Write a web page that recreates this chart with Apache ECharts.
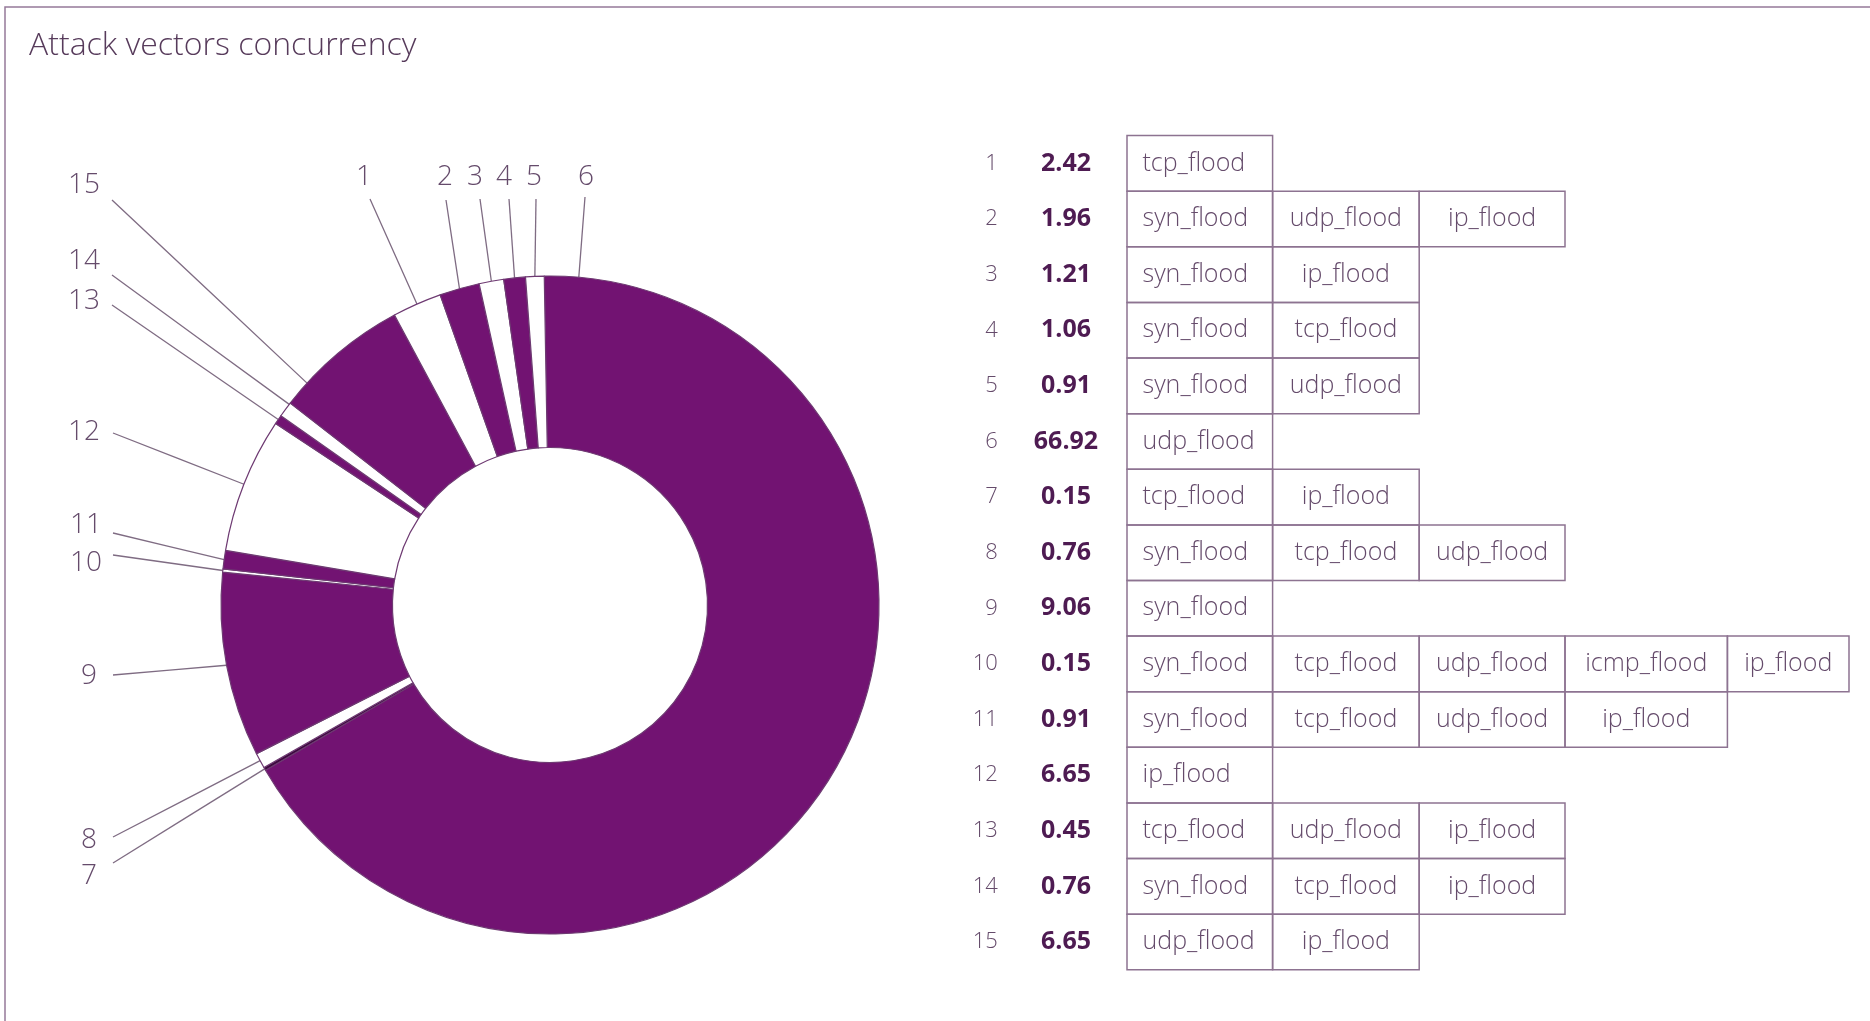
<!DOCTYPE html>
<html>
<head>
<meta charset="utf-8">
<title>Attack vectors concurrency</title>
<script src="https://cdn.jsdelivr.net/npm/echarts@6/dist/echarts.min.js"></script>
<style>
  html, body { margin: 0; padding: 0; background: #ffffff; }
  #chart { width: 1870px; height: 1021px; }
</style>
</head>
<body>
<div id="chart"></div>
<script>
// Combination ids, their share of attacks (%) and the vectors in each combination
const rowIds = ['1', '2', '3', '4', '5', '6', '7', '8', '9', '10', '11', '12', '13', '14', '15'];
const rowShares = [2.42, 1.96, 1.21, 1.06, 0.91, 66.92, 0.15, 0.76, 9.06, 0.15, 0.91, 6.65, 0.45, 0.76, 6.65];
const rowVectors = [
  ['tcp_flood'],
  ['syn_flood', 'udp_flood', 'ip_flood'],
  ['syn_flood', 'ip_flood'],
  ['syn_flood', 'tcp_flood'],
  ['syn_flood', 'udp_flood'],
  ['udp_flood'],
  ['tcp_flood', 'ip_flood'],
  ['syn_flood', 'tcp_flood', 'udp_flood'],
  ['syn_flood'],
  ['syn_flood', 'tcp_flood', 'udp_flood', 'icmp_flood', 'ip_flood'],
  ['syn_flood', 'tcp_flood', 'udp_flood', 'ip_flood'],
  ['ip_flood'],
  ['tcp_flood', 'udp_flood', 'ip_flood'],
  ['syn_flood', 'tcp_flood', 'ip_flood'],
  ['udp_flood', 'ip_flood']
];
// Order of the segments around the ring, clockwise from the top
const ringOrder = ['6', '7', '8', '9', '10', '11', '12', '13', '14', '15', '1', '2', '3', '4', '5'];

// ---- styling ----
const PURPLE = '#721372';
const DARK = '#3e0a40';
const WHITE = '#ffffff';
const ringFill = [PURPLE, DARK, WHITE, PURPLE, WHITE, PURPLE, WHITE, PURPLE, WHITE, PURPLE, WHITE, PURPLE, WHITE, PURPLE, WHITE];
const TEXT_GREY = '#654b6b';
const LINE_GREY = '#7f6c83';
const CELL_LINE = '#8d7391';
const FONT = '"Open Sans", "Noto Sans", sans-serif';

// Callout placement: label centre, where the leader line leaves the label,
// and how far along its segment (0..1) the line meets the ring.
const calloutSpots = {
  '1':  { text: [364, 177], from: [370, 199], t: 0.5 },
  '2':  { text: [445, 177], from: [446, 200], t: 0.5 },
  '3':  { text: [475, 177], from: [480, 199], t: 0.5 },
  '4':  { text: [504, 177], from: [509, 199], t: 0.5 },
  '5':  { text: [534, 177], from: [536, 199], t: 0.5 },
  '6':  { text: [586, 177], from: [585, 197], t: 0.025 },
  '7':  { text: [89, 876], from: [113, 863], t: 0.5 },
  '8':  { text: [89, 840], from: [113, 837], t: 0.5 },
  '9':  { text: [89, 676], from: [113, 675], t: 0.5 },
  '10': { text: [86, 563], from: [113, 555], t: 0.5 },
  '11': { text: [86, 525], from: [113, 533], t: 0.5 },
  '12': { text: [84, 432], from: [113, 433], t: 0.5 },
  '13': { text: [84, 301], from: [112, 305], t: 0.5 },
  '14': { text: [84, 261], from: [112, 275], t: 0.9 },
  '15': { text: [84, 185], from: [112, 200], t: 0.19 }
};

// Table column edges (px from the first cell's left edge)
const colEdges = [0, 145.5, 292, 437.7, 600, 721.5];

const chart = echarts.init(document.getElementById('chart'), null, { renderer: 'canvas' });

function ringPoint(dataIndex, t, fallback) {
  try {
    const lay = chart.getModel().getSeriesByIndex(0).getData().getItemLayout(dataIndex);
    const a = lay.startAngle + (lay.endAngle - lay.startAngle) * t;
    return [lay.cx + lay.r * Math.cos(a), lay.cy + lay.r * Math.sin(a)];
  } catch (e) {
    return fallback;
  }
}

const pieData = ringOrder.map((id, k) => ({
  name: id,
  value: rowShares[rowIds.indexOf(id)],
  itemStyle: { color: ringFill[k] }
}));

function renderRow(params, api) {
  const i = params.dataIndex;
  const yc = api.coord([0, i])[1];
  const h = api.size([0, 1])[1];
  const children = [];
  children.push({
    type: 'text',
    style: {
      text: rowIds[i], x: api.coord([-129, i])[0], y: yc,
      align: 'right', verticalAlign: 'middle',
      fontFamily: FONT, fontSize: 22, fontWeight: 300, fill: TEXT_GREY
    }
  });
  children.push({
    type: 'text',
    style: {
      text: rowShares[i].toFixed(2), x: api.coord([-61, i])[0], y: yc,
      align: 'center', verticalAlign: 'middle',
      fontFamily: FONT, fontSize: 25, fontWeight: 'bold', fill: '#4e1b52'
    }
  });
  rowVectors[i].forEach((v, j) => {
    const x0 = api.coord([colEdges[j], i])[0];
    const x1 = api.coord([colEdges[j + 1], i])[0];
    children.push({
      type: 'rect',
      shape: { x: x0, y: yc - h / 2, width: x1 - x0, height: h },
      style: { fill: 'none', stroke: CELL_LINE, lineWidth: 1.5 }
    });
    children.push({
      type: 'text',
      style: {
        text: v, x: j === 0 ? x0 + 15.5 : (x0 + x1) / 2, y: yc,
        align: j === 0 ? 'left' : 'center', verticalAlign: 'middle',
        fontFamily: FONT, fontSize: 25, fontWeight: 300, fill: TEXT_GREY
      }
    });
  });
  return { type: 'group', children };
}

chart.setOption({
  animation: false,
  backgroundColor: '#ffffff',
  title: {
    text: 'Attack vectors concurrency',
    left: 24,
    top: 25,
    textStyle: { color: '#573b5b', fontSize: 32, fontWeight: 300, fontFamily: FONT }
  },
  graphic: [{
    type: 'rect',
    shape: { x: 5, y: 7, width: 1900, height: 1100 },
    style: { fill: 'none', stroke: '#957a99', lineWidth: 1.5 },
    silent: true
  }],
  grid: { left: 1127, right: 21, top: 135.6, bottom: 51.2 },
  xAxis: { type: 'value', min: 0, max: 721.5, show: false },
  yAxis: { type: 'category', data: rowIds, inverse: true, show: false },
  series: [
    {
      type: 'pie',
      center: [550, 605],
      radius: [157.5, 329],
      startAngle: 91,
      clockwise: true,
      avoidLabelOverlap: false,
      silent: true,
      itemStyle: { borderColor: '#6e3a72', borderWidth: 1.2 },
      label: {
        show: true,
        position: 'outside',
        formatter: '{b}',
        color: TEXT_GREY,
        fontSize: 28,
        fontWeight: 300,
        fontFamily: FONT
      },
      labelLine: {
        show: true,
        length: 20,
        length2: 10,
        lineStyle: { color: LINE_GREY, width: 1.3 }
      },
      labelLayout: function (params) {
        const id = ringOrder[params.dataIndex];
        const spot = calloutSpots[id];
        const fallback = params.labelLinePoints ? params.labelLinePoints[0] : spot.from;
        const p = ringPoint(params.dataIndex, spot.t, fallback);
        const m = [(p[0] + spot.from[0]) / 2, (p[1] + spot.from[1]) / 2];
        return {
          x: spot.text[0],
          y: spot.text[1],
          align: 'center',
          verticalAlign: 'middle',
          labelLinePoints: [p, m, spot.from]
        };
      },
      data: pieData
    },
    {
      type: 'custom',
      coordinateSystem: 'cartesian2d',
      clip: false,
      silent: true,
      renderItem: renderRow,
      encode: { x: 0, y: 1 },
      data: rowIds.map((id, i) => [0, i])
    }
  ]
});
</script>
</body>
</html>
